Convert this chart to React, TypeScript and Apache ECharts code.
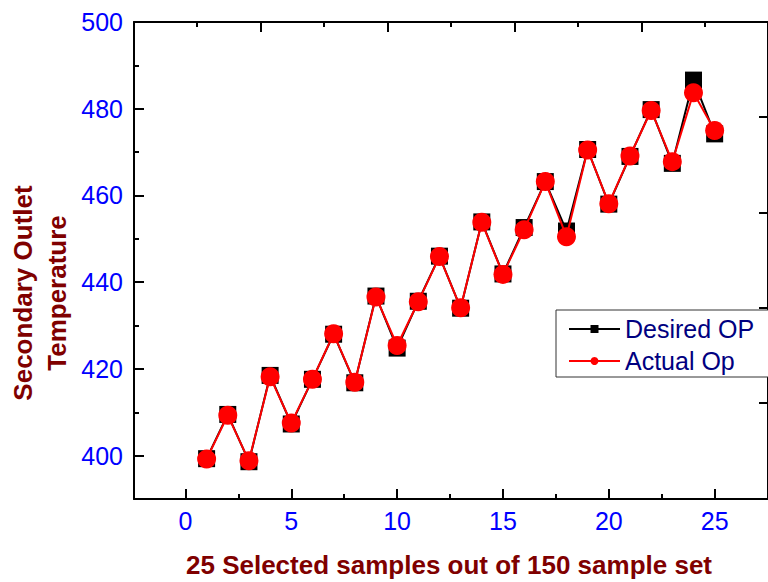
import React, { useEffect, useRef } from "react";
import * as echarts from "echarts";

const sampleIndex = [1, 2, 3, 4, 5, 6, 7, 8, 9, 10, 11, 12, 13, 14, 15, 16, 17, 18, 19, 20, 21, 22, 23, 24, 25];
const desiredOP = [399.3, 409.5, 398.6, 418.5, 407.3, 417.6, 428.0, 416.8, 436.8, 424.8, 435.6, 446.0, 434.0, 453.9, 441.9, 452.6, 463.2, 451.8, 470.6, 458.0, 469.0, 479.8, 467.4, 486.6, 474.2];
const actualOp = [399.2, 409.3, 398.8, 418.2, 407.5, 417.6, 428.1, 416.9, 436.6, 425.4, 435.5, 445.9, 434.1, 453.8, 441.8, 452.1, 463.2, 450.5, 470.5, 458.1, 469.1, 479.6, 467.8, 483.7, 475.0];

const xMajorTicks = [0, 5, 10, 15, 20, 25];
const xMinorTicks = [2.5, 7.5, 12.5, 17.5, 22.5];
const yMajorTicks = [400, 420, 440, 460, 480, 500];
const yMinorTicks = [410, 430, 450, 470, 490];
const topMajorTicks = [3.54, 9.54, 15.54, 21.54];
const topMinorTicks = [0.54, 6.54, 12.54, 18.54, 24.54];
const rightTicks = [412.1, 434.1, 456.1, 478.1];

const seriesNames = ["Desired OP", "Actual Op"];
const xTitle = "25 Selected samples out of 150 sample set";
const yTitle = "Secondary Outlet\nTemperature";

const FONT = "'Liberation Sans', Arial, sans-serif";
const X_MIN = -2.43;
const X_MAX = 27.52;
const Y_MIN = 390;
const Y_MAX = 500;

export default function App() {
  const ref = useRef<HTMLDivElement>(null);

  useEffect(() => {
    if (!ref.current) return;
    const chart = echarts.init(ref.current, undefined, { renderer: "svg" });

    const baseX = (position: string, ticks: number[], len: number, showLine: boolean, labels: number[] | null) => ({
      type: "value",
      position,
      min: X_MIN,
      max: X_MAX,
      offset: 0,
      splitLine: { show: false },
      axisLine: { show: showLine, onZero: false, lineStyle: { color: "#000", width: 2 } },
      axisTick: { show: true, inside: true, length: len, customValues: ticks, lineStyle: { color: "#000", width: 2 } },
      axisLabel: labels
        ? { show: true, customValues: labels, color: "#0000ff", fontSize: 25, fontFamily: FONT, margin: 9 }
        : { show: false },
    });

    const baseY = (position: string, ticks: number[], len: number, showLine: boolean, labels: number[] | null) => ({
      type: "value",
      position,
      min: Y_MIN,
      max: Y_MAX,
      offset: 0,
      splitLine: { show: false },
      axisLine: { show: showLine, onZero: false, lineStyle: { color: "#000", width: 2 } },
      axisTick: { show: true, inside: true, length: len, customValues: ticks, lineStyle: { color: "#000", width: 2 } },
      axisLabel: labels
        ? { show: true, customValues: labels, color: "#0000ff", fontSize: 25, fontFamily: FONT, margin: 11 }
        : { show: false },
    });

    const option: any = {
      animation: false,
      backgroundColor: "#ffffff",
      grid: { left: 134, top: 22, width: 640, height: 477, containLabel: false },
      xAxis: [
        baseX("bottom", xMajorTicks, 10, true, xMajorTicks),
        baseX("bottom", xMinorTicks, 5, false, null),
        baseX("top", topMajorTicks, 10, true, null),
        baseX("top", topMinorTicks, 5, false, null),
      ],
      yAxis: [
        baseY("left", yMajorTicks, 10, true, yMajorTicks),
        baseY("left", yMinorTicks, 5, false, null),
        baseY("right", rightTicks, 9, true, null),
      ],
      legend: {
        orient: "vertical",
        left: 556,
        top: 310,
        data: seriesNames,
        itemWidth: 51,
        itemHeight: 10,
        itemGap: 4,
        padding: [5, 30, 2, 12],
        borderColor: "#333",
        borderWidth: 1,
        backgroundColor: "#fff",
        textStyle: { color: "#000080", fontSize: 25, fontFamily: FONT, lineHeight: 28 },
      },
      series: [
        {
          name: seriesNames[0],
          type: "line",
          xAxisIndex: 0,
          yAxisIndex: 0,
          data: sampleIndex.map((x, i) => [x, desiredOP[i]]),
          symbol: "rect",
          symbolSize: 17,
          itemStyle: { color: "#000000" },
          lineStyle: { color: "#000000", width: 2 },
          z: 2,
        },
        {
          name: seriesNames[1],
          type: "line",
          xAxisIndex: 0,
          yAxisIndex: 0,
          data: sampleIndex.map((x, i) => [x, actualOp[i]]),
          symbol: "circle",
          symbolSize: 19,
          itemStyle: { color: "#ff0000" },
          lineStyle: { color: "#ff0000", width: 2 },
          z: 3,
        },
      ],
      graphic: [
        {
          type: "text",
          x: 449,
          y: 565,
          style: {
            text: xTitle,
            fill: "#7f0000",
            font: `bold 26px ${FONT}`,
            align: "center",
            verticalAlign: "middle",
          },
        },
        {
          type: "text",
          x: 40,
          y: 293,
          rotation: Math.PI / 2,
          style: {
            text: yTitle,
            fill: "#7f0000",
            font: `bold 26px ${FONT}`,
            align: "center",
            verticalAlign: "middle",
            lineHeight: 34,
          },
        },
      ],
    };

    chart.setOption(option);
    return () => chart.dispose();
  }, []);

  return (
    <div
      ref={ref}
      style={{ position: "fixed", left: 0, top: 0, width: 768, height: 582, background: "#fff" }}
    />
  );
}
